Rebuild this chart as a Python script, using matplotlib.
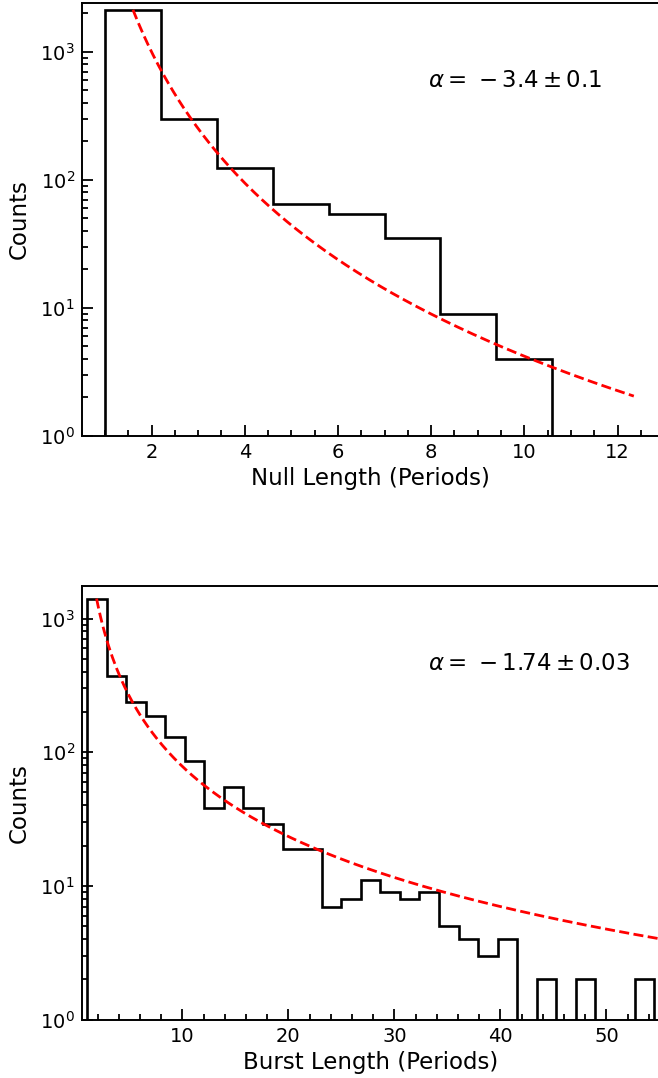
import numpy as np
import matplotlib
matplotlib.use("Agg")
import matplotlib.pyplot as plt
from matplotlib.ticker import MultipleLocator, LogLocator, NullFormatter

# null length histogram (periods), bin edges at 1.0 .. 10.6
null_edges = [1.0, 2.2, 3.4, 4.6, 5.8, 7.0, 8.2, 9.4, 10.6]
null_counts = [2100, 298, 123, 65, 54, 35, 9, 4]
null_amp = 10500.0
null_alpha = -3.4
null_fit_range = (1.6, 12.35)
null_label = r"$\alpha = \ {-}\,3.4 \pm 0.1$"

# burst length histogram, 29 equal bins from 1 to 54.5
burst_first_edge = 1.0
burst_last_edge = 54.5
burst_counts = [1400, 372, 237, 186, 130, 86, 38, 55, 38, 29,
                19, 19, 7, 8, 11, 9, 8, 9, 5, 4,
                3, 4, 0, 2, 0, 2, 0, 0, 2]
burst_amp = 4300.0
burst_alpha = -1.74
burst_fit_range = (1.9, 58.0)
burst_label = r"$\alpha = \ {-}\,1.74 \pm 0.03$"


def draw_panel(ax, edges, counts, amp, alpha, fit_range, label, xlabel,
               xlim, ylim, major, minor):
    edges = np.asarray(edges, dtype=float)
    ax.hist(edges[:-1], bins=edges, weights=counts, histtype="step",
            color="black", linewidth=1.9, log=True)
    xf = np.linspace(fit_range[0], fit_range[1], 300)
    ax.plot(xf, amp * xf ** alpha, "--", color="red", linewidth=2.0,
            dashes=(3.6, 1.6))
    ax.set_xlim(*xlim)
    ax.set_ylim(*ylim)
    ax.xaxis.set_major_locator(MultipleLocator(major))
    ax.xaxis.set_minor_locator(MultipleLocator(minor))
    ax.yaxis.set_major_locator(LogLocator(base=10))
    ax.yaxis.set_minor_locator(LogLocator(base=10, subs=np.arange(2, 10)))
    ax.yaxis.set_minor_formatter(NullFormatter())
    ax.tick_params(which="both", direction="in", top=False, right=False,
                   labelsize=14, width=1.3)
    ax.tick_params(which="major", length=8, pad=5)
    ax.tick_params(which="minor", length=4)
    for s in ax.spines.values():
        s.set_linewidth(1.4)
    ax.set_xlabel(xlabel, fontsize=16.5, labelpad=4)
    ax.set_ylabel("Counts", fontsize=16.5, labelpad=7)
    ax.text(0.6, 0.82, label, transform=ax.transAxes, va="center",
            ha="left", fontsize=16.5)


fig = plt.figure(figsize=(6.58, 10.78), dpi=100)
ax1 = fig.add_axes([0.1242, 0.5958, 0.878, 0.4017])
ax2 = fig.add_axes([0.1242, 0.0541, 0.878, 0.4026])

draw_panel(ax1, null_edges, null_counts, null_amp, null_alpha, null_fit_range,
           null_label, "Null Length (Periods)", (0.5, 12.9), (1, 2415), 2, 0.5)

burst_edges = np.linspace(burst_first_edge, burst_last_edge, len(burst_counts) + 1)
draw_panel(ax2, burst_edges, burst_counts, burst_amp, burst_alpha,
           burst_fit_range, burst_label, "Burst Length (Periods)",
           (0.5, 55.0), (1, 1760), 10, 2)

fig.savefig("out.png", dpi=100)
